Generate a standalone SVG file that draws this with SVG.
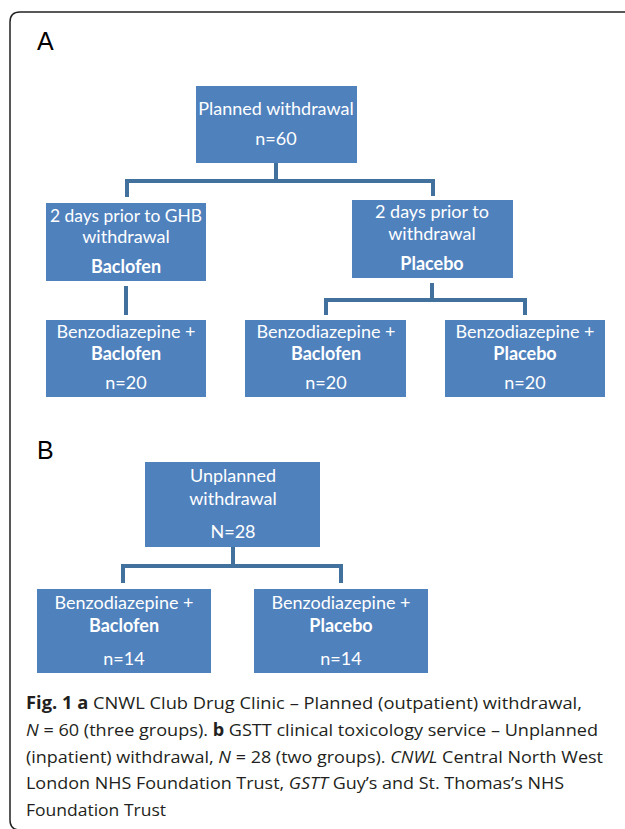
<svg xmlns="http://www.w3.org/2000/svg" width="625" height="829" viewBox="0 0 625 829">
<style>
.box{fill:#4f81bd}
.t{font-family:Lato,"Open Sans",sans-serif;font-size:18px;fill:#fff;text-anchor:middle}
.b{font-weight:bold}
.conn{fill:none;stroke:#41719c;stroke-width:4}
.lbl{font-family:"Liberation Sans",Arial,sans-serif;font-size:25px;fill:#000}
.cap{font-family:"Open Sans","Liberation Sans",sans-serif;font-size:17px;fill:#231f20}
</style>
<rect width="625" height="829" fill="#fff"/>
<path d="M630,12 H20 Q10,12 10,22 V820 Q10,830 20,830 H630" fill="none" stroke="#222" stroke-width="1.5"/>
<text class="lbl" x="37" y="50">A</text>
<text class="lbl" x="37" y="459">B</text>
<g id="connectors">
<path class="conn" d="M276,163 V181 M127,197 V181 H433 V196"/>
<path class="conn" d="M126,286 V315"/>
<path class="conn" d="M432,283 V300 M326,315 V300 H525 V315"/>
<path class="conn" d="M233,547 V566 M123,583 V566 H341 V583"/>
</g>
<g id="planned">
<rect class="box" x="196" y="86" width="161" height="77"/>
<text class="t" x="276" y="115">Planned withdrawal</text>
<text class="t" x="276" y="145">n=60</text>
</g>
<g id="prior-baclofen">
<rect class="box" x="46" y="203" width="160" height="78"/>
<text class="t" x="126" y="222" textLength="152" lengthAdjust="spacingAndGlyphs">2 days prior to GHB</text>
<text class="t" x="126" y="243">withdrawal</text>
<text class="t b" x="126" y="273">Baclofen</text>
</g>
<g id="prior-placebo">
<rect class="box" x="352" y="200" width="161" height="78"/>
<text class="t" x="432" y="218">2 days prior to</text>
<text class="t" x="432" y="240">withdrawal</text>
<text class="t b" x="432" y="270">Placebo</text>
</g>
<g id="a-bb">
<rect class="box" x="46" y="320" width="160" height="77"/>
<text class="t" x="126" y="338">Benzodiazepine +</text>
<text class="t b" x="126" y="360">Baclofen</text>
<text class="t" x="126" y="389">n=20</text>
</g>
<g id="a-pb">
<rect class="box" x="245" y="320" width="161" height="77"/>
<text class="t" x="326" y="338">Benzodiazepine +</text>
<text class="t b" x="326" y="360">Baclofen</text>
<text class="t" x="326" y="389">n=20</text>
</g>
<g id="a-pp">
<rect class="box" x="445" y="320" width="160" height="77"/>
<text class="t" x="525" y="338">Benzodiazepine +</text>
<text class="t b" x="525" y="360">Placebo</text>
<text class="t" x="525" y="389">n=20</text>
</g>
<g id="unplanned">
<rect class="box" x="145" y="462" width="175" height="85"/>
<text class="t" x="233" y="482">Unplanned</text>
<text class="t" x="233" y="505">withdrawal</text>
<text class="t" x="233" y="538">N=28</text>
</g>
<g id="b-bb">
<rect class="box" x="37" y="589" width="174" height="84"/>
<text class="t" x="124" y="609">Benzodiazepine +</text>
<text class="t b" x="124" y="632">Baclofen</text>
<text class="t" x="124" y="665">n=14</text>
</g>
<g id="b-bp">
<rect class="box" x="254" y="589" width="174" height="84"/>
<text class="t" x="341" y="609">Benzodiazepine +</text>
<text class="t b" x="341" y="632">Placebo</text>
<text class="t" x="341" y="665">n=14</text>
</g>
<g id="caption">
<text class="cap" x="26" y="709" textLength="556" lengthAdjust="spacingAndGlyphs"><tspan font-weight="bold">Fig. 1 a</tspan> CNWL Club Drug Clinic – Planned (outpatient) withdrawal,</text>
<text class="cap" x="26" y="736" textLength="572" lengthAdjust="spacingAndGlyphs"><tspan font-style="italic">N</tspan> = 60 (three groups). <tspan font-weight="bold">b</tspan> GSTT clinical toxicology service – Unplanned</text>
<text class="cap" x="26" y="763" textLength="577" lengthAdjust="spacingAndGlyphs">(inpatient) withdrawal, <tspan font-style="italic">N</tspan> = 28 (two groups). <tspan font-style="italic">CNWL</tspan> Central North West</text>
<text class="cap" x="26" y="789" textLength="538" lengthAdjust="spacingAndGlyphs">London NHS Foundation Trust, <tspan font-style="italic">GSTT</tspan> Guy’s and St. Thomas’s NHS</text>
<text class="cap" x="26" y="816" textLength="140" lengthAdjust="spacingAndGlyphs">Foundation Trust</text>
</g>
</svg>
